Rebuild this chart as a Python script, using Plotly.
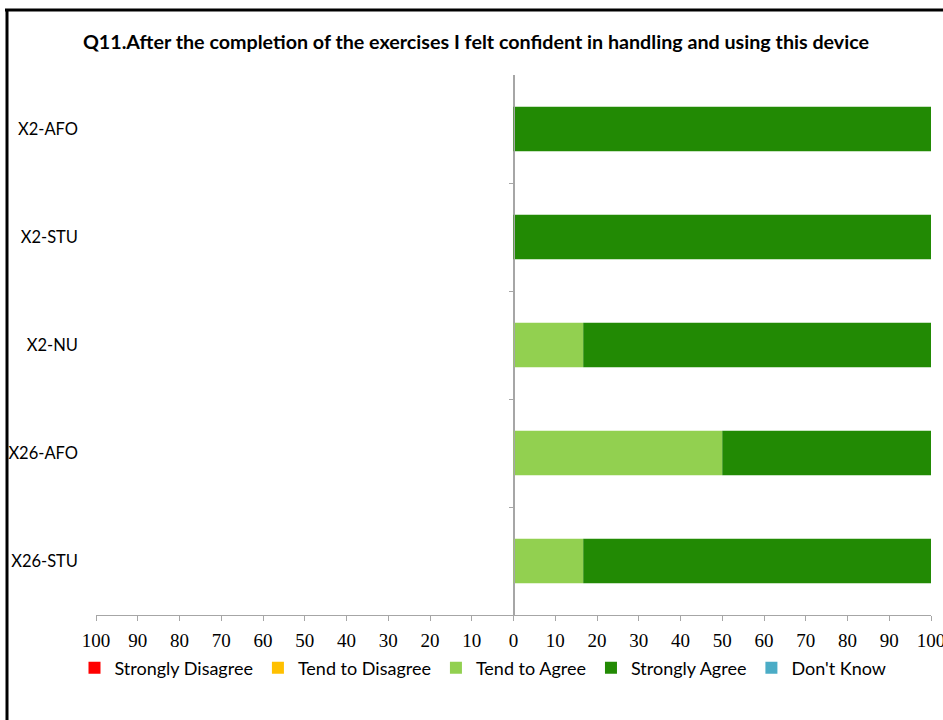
import plotly.graph_objects as go

categories = ["X2-AFO", "X2-STU", "X2-NU", "X26-AFO", "X26-STU"]
strongly_disagree = [0, 0, 0, 0, 0]
tend_to_disagree = [0, 0, 0, 0, 0]
tend_to_agree = [0, 0, 16.7, 50, 16.7]
strongly_agree = [100, 100, 83.3, 50, 83.3]
dont_know = [0, 0, 0, 0, 0]
tick_values = list(range(-100, 101, 10))
tick_labels = [str(abs(v)) for v in tick_values]

FONT = "Lato"
W, H = 943, 720
L, R, T, B = 96, 12, 75, 105
PW, PH = W - L - R, H - T - B

series = [
    ("Strongly Disagree", [-v for v in strongly_disagree], "#FF0000"),
    ("Tend to Disagree", [-v for v in tend_to_disagree], "#FFC000"),
    ("Tend to Agree", tend_to_agree, "#92D050"),
    ("Strongly Agree", strongly_agree, "#228A04"),
    ("Don't Know", dont_know, "#4BACC6"),
]

fig = go.Figure()
for name, vals, color in series:
    fig.add_trace(go.Bar(
        y=categories, x=vals, name=name, orientation="h",
        marker=dict(color=color, line=dict(width=0)),
    ))

def px_x(p):
    return (p - L) / PW

def px_y(p):
    return (H - B - p) / PH

fig.update_layout(
    width=W, height=H,
    margin=dict(l=L, r=R, t=T, b=B, autoexpand=False),
    paper_bgcolor="white", plot_bgcolor="white",
    barmode="relative", bargap=0.59,
    font=dict(family=FONT, size=16, color="black"),
    title=dict(
        text="<b>Q11.After the completion of the exercises I felt confident in handling and using this device</b>",
        x=px_x(476), xanchor="center", y=1 - 42 / H, yanchor="middle",
        xref="paper",
        font=dict(family=FONT, size=19.7, color="black"),
    ),
    xaxis=dict(
        range=[-100, 100], tickvals=tick_values, ticktext=tick_labels,
        showgrid=False, zeroline=True, zerolinecolor="#A6A6A6", zerolinewidth=1,
        showline=True, linecolor="#A6A6A6", linewidth=1,
        ticks="outside", tickcolor="#A6A6A6", ticklen=5,
        ticklabelstandoff=3, ticklabeloverflow="allow", automargin=False,
        tickfont=dict(family="Liberation Serif", size=19, color="black"),
        fixedrange=True,
    ),
    yaxis=dict(
        categoryorder="array", categoryarray=categories[::-1],
        showgrid=False, showline=False, ticks="", automargin=False,
        ticklabelstandoff=17,
        tickfont=dict(family=FONT, size=16.5, color="black"),
    ),
    yaxis2=dict(
        overlaying="y", anchor="free", position=0.5, automargin=False,
        range=[-0.5, 4.5], tickvals=[0.5, 1.5, 2.5, 3.5],
        showticklabels=False, showgrid=False, zeroline=False,
        showline=True, linecolor="#A6A6A6", linewidth=1,
        ticks="outside", tickcolor="#A6A6A6", ticklen=5,
    ),
    legend=dict(
        orientation="h", x=px_x(483), xanchor="center",
        y=px_y(668), yanchor="middle",
        font=dict(family=FONT, size=18, color="black"),
        itemwidth=30, tracegroupgap=0, traceorder="normal",
    ),
    showlegend=True,
    shapes=[
        dict(type="line", xref="paper", yref="paper",
             x0=px_x(5), x1=px_x(960), y0=px_y(10), y1=px_y(10),
             line=dict(color="black", width=3)),
        dict(type="line", xref="paper", yref="paper",
             x0=px_x(7), x1=px_x(7), y0=px_y(9), y1=px_y(740),
             line=dict(color="black", width=3)),
    ],
)
# a hidden trace to keep yaxis2 drawn
fig.add_trace(go.Scatter(x=[0], y=[0], yaxis="y2", mode="markers",
                         marker=dict(opacity=0), showlegend=False, hoverinfo="skip"))

fig.write_html("out.html",
               config={"displayModeBar": False},
               post_script="document.body.style.margin='0';document.body.style.overflow='hidden';")
